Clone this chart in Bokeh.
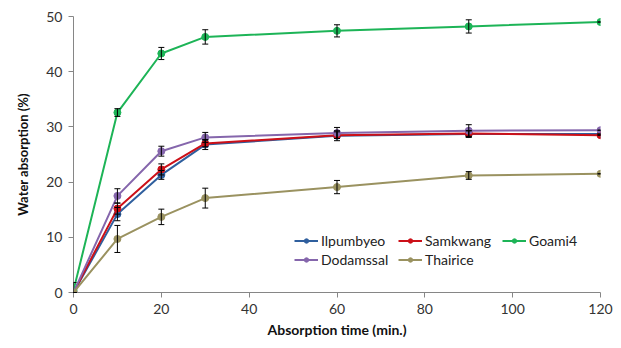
from bokeh.plotting import figure
from bokeh.models import ColumnDataSource, Whisker, TeeHead, Legend, LegendItem, Range1d, FixedTicker
from bokeh.embed import file_html
from bokeh.resources import INLINE

time = [0, 10, 20, 30, 60, 90, 120]
names = ["Ilpumbyeo", "Samkwang", "Goami4", "Dodamssal", "Thairice"]
ilpumbyeo = [0.0, 14.2, 21.3, 26.8, 28.4, 28.7, 28.7]
ilpumbyeo_err = [0.0, 1.2, 0.8, 0.9, 0.9, 0.6, 0.0]
samkwang = [0.0, 15.2, 22.3, 27.0, 28.5, 28.8, 28.5]
samkwang_err = [0.0, 1.0, 1.0, 0.6, 0.6, 0.5, 0.0]
goami4 = [0.4, 32.6, 43.3, 46.3, 47.4, 48.2, 49.0]
goami4_err = [1.4, 0.7, 1.1, 1.3, 1.1, 1.2, 0.0]
dodamssal = [0.0, 17.5, 25.6, 28.1, 28.9, 29.3, 29.4]
dodamssal_err = [0.0, 1.3, 0.9, 0.9, 1.0, 1.1, 0.0]
thairice = [0.0, 9.7, 13.7, 17.1, 19.1, 21.2, 21.5]
thairice_err = [0.0, 2.45, 1.4, 1.8, 1.2, 0.7, 0.0]
x_ticks = [0, 20, 40, 60, 80, 100, 120]
y_ticks = [0, 10, 20, 30, 40, 50]

series = [ilpumbyeo, samkwang, goami4, dodamssal, thairice]
errors = [ilpumbyeo_err, samkwang_err, goami4_err, dodamssal_err, thairice_err]
colors = ["#2f5f9e", "#cc1018", "#1db457", "#8566ac", "#9a9260"]

FONT = "Lato"

p = figure(width=613, height=340, output_backend="svg", toolbar_location=None,
           x_range=Range1d(0, 120), y_range=Range1d(0, 50),
           min_border_left=73, min_border_right=13, min_border_top=16, min_border_bottom=45)
p.outline_line_color = None
p.xgrid.visible = False
p.ygrid.visible = False

for ax in (p.xaxis, p.yaxis):
    ax.axis_line_color = "#868686"
    ax.major_tick_line_color = "#868686"
    ax.minor_tick_line_color = None
    ax.major_tick_out = 5
    ax.major_tick_in = 0
    ax.major_label_text_font = FONT
    ax.major_label_text_font_size = "14px"
    ax.major_label_text_color = "#333333"
    ax.axis_label_text_font = FONT
    ax.axis_label_text_font_size = "13px"
    ax.axis_label_text_font_style = "bold"
    ax.axis_label_text_color = "#111111"

p.xaxis.ticker = FixedTicker(ticks=x_ticks)
p.yaxis.ticker = FixedTicker(ticks=y_ticks)
p.xaxis.axis_label = "Absorption time (min.)"
p.yaxis.axis_label = "Water absorption (%)"
p.xaxis.axis_label_text_font_size = "14px"
p.xaxis.major_label_standoff = 6
p.yaxis.major_label_standoff = 6
p.xaxis.axis_label_standoff = 4
p.yaxis.axis_label_standoff = 12

items = {}
for name, ys, es, c in zip(names, series, errors, colors):
    src = ColumnDataSource(dict(x=time, y=ys,
                                lo=[a - b for a, b in zip(ys, es)],
                                hi=[a + b for a, b in zip(ys, es)]))
    w = Whisker(source=src, base="x", lower="lo", upper="hi", level="overlay",
                line_color="black", line_width=1,
                upper_head=TeeHead(size=6, line_color="black", line_width=1),
                lower_head=TeeHead(size=6, line_color="black", line_width=1))
    p.add_layout(w)
    l = p.line("x", "y", source=src, line_color=c, line_width=2)
    s = p.scatter("x", "y", source=src, size=7, fill_color=c, line_color=c)
    items[name] = LegendItem(label=name, renderers=[l, s])

# column-major fill: gives rows "Ilpumbyeo Samkwang Goami4" / "Dodamssal Thairice"
order = ["Ilpumbyeo", "Dodamssal", "Samkwang", "Thairice", "Goami4"]
legend = Legend(items=[items[n] for n in order], nrows=2, location=(219, 22),
                background_fill_alpha=0, border_line_alpha=0,
                label_text_font=FONT, label_text_font_size="14px",
                label_text_color="#222222", glyph_width=24, glyph_height=11,
                spacing=2, padding=2, label_standoff=3, margin=0,
                label_height=11, label_width=75)
p.add_layout(legend)

open("out.html", "w").write(file_html(p, INLINE))
